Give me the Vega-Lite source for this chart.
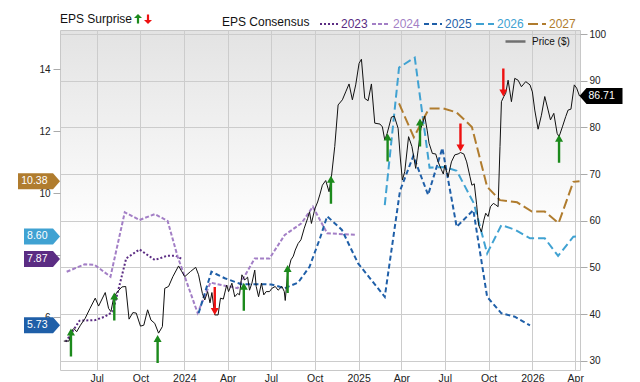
{
  "$schema": "https://vega.github.io/schema/vega-lite/v6.json",
  "width": 520,
  "height": 340,
  "autosize": {"type": "none"},
  "padding": {"left": 60, "top": 30, "right": 60, "bottom": 12},
  "background": "white",
  "config": {
    "font": "Liberation Sans",
    "view": {
      "stroke": "#c8c8c8",
      "fill": {"gradient": "linear", "x1": 0, "y1": 0, "x2": 0, "y2": 1,
        "stops": [{"offset": 0, "color": "#e3e3e3"}, {"offset": 0.6, "color": "#ffffff"}]}
    },
    "legend": {"padding": 0, "titleFontWeight": "normal", "titleFontSize": 12, "titleColor": "#111", "labelColor": "#111"}
  },
  "datasets": {
    "price": [
      {"date": "2023-04-23", "price": 34.2}, {"date": "2023-05-04", "price": 34.2}, {"date": "2023-05-08", "price": 36.2},
      {"date": "2023-05-14", "price": 36.9}, {"date": "2023-05-20", "price": 36.2}, {"date": "2023-05-28", "price": 37.6},
      {"date": "2023-06-07", "price": 39.1}, {"date": "2023-06-17", "price": 41.2}, {"date": "2023-06-28", "price": 43.4},
      {"date": "2023-07-05", "price": 41.7}, {"date": "2023-07-19", "price": 44.6}, {"date": "2023-07-26", "price": 41.2},
      {"date": "2023-07-31", "price": 40.5}, {"date": "2023-08-06", "price": 43.7}, {"date": "2023-08-14", "price": 44.8},
      {"date": "2023-08-23", "price": 45.8}, {"date": "2023-08-31", "price": 45.9}, {"date": "2023-09-07", "price": 38.9},
      {"date": "2023-09-15", "price": 40.3}, {"date": "2023-09-22", "price": 40.2}, {"date": "2023-10-01", "price": 37.4},
      {"date": "2023-10-08", "price": 37.6}, {"date": "2023-10-16", "price": 40.9}, {"date": "2023-10-23", "price": 38.7},
      {"date": "2023-10-31", "price": 38.0}, {"date": "2023-11-08", "price": 35.9}, {"date": "2023-11-16", "price": 37.3},
      {"date": "2023-11-21", "price": 45.5}, {"date": "2023-11-29", "price": 45.9}, {"date": "2023-12-08", "price": 48.0},
      {"date": "2023-12-20", "price": 50.3}, {"date": "2024-01-02", "price": 48.0}, {"date": "2024-01-14", "price": 49.1},
      {"date": "2024-01-25", "price": 50.0}, {"date": "2024-01-31", "price": 48.4}, {"date": "2024-02-08", "price": 44.4},
      {"date": "2024-02-13", "price": 43.0}, {"date": "2024-02-19", "price": 44.8}, {"date": "2024-02-24", "price": 42.4},
      {"date": "2024-02-28", "price": 44.6}, {"date": "2024-03-05", "price": 39.8}, {"date": "2024-03-12", "price": 39.8},
      {"date": "2024-03-17", "price": 43.4}, {"date": "2024-03-23", "price": 43.2}, {"date": "2024-03-30", "price": 46.2},
      {"date": "2024-04-03", "price": 44.8}, {"date": "2024-04-10", "price": 46.6}, {"date": "2024-04-16", "price": 43.7},
      {"date": "2024-04-22", "price": 44.4}, {"date": "2024-04-26", "price": 44.1}, {"date": "2024-05-01", "price": 48.4},
      {"date": "2024-05-07", "price": 47.3}, {"date": "2024-05-13", "price": 47.9}, {"date": "2024-05-17", "price": 45.1},
      {"date": "2024-05-22", "price": 46.6}, {"date": "2024-05-28", "price": 49.4}, {"date": "2024-05-31", "price": 45.9},
      {"date": "2024-06-05", "price": 43.7}, {"date": "2024-06-11", "price": 46.6}, {"date": "2024-06-16", "price": 44.1},
      {"date": "2024-06-21", "price": 44.8}, {"date": "2024-06-28", "price": 44.8}, {"date": "2024-07-03", "price": 45.5},
      {"date": "2024-07-10", "price": 45.9}, {"date": "2024-07-16", "price": 45.1}, {"date": "2024-07-24", "price": 45.9},
      {"date": "2024-07-29", "price": 44.8}, {"date": "2024-07-31", "price": 42.9}, {"date": "2024-08-05", "price": 48.7},
      {"date": "2024-08-12", "price": 51.6}, {"date": "2024-08-17", "price": 52.4}, {"date": "2024-08-21", "price": 53.7},
      {"date": "2024-08-27", "price": 55.1}, {"date": "2024-09-02", "price": 55.9}, {"date": "2024-09-09", "price": 58.4},
      {"date": "2024-09-16", "price": 60.5}, {"date": "2024-09-20", "price": 61.9}, {"date": "2024-09-24", "price": 59.4},
      {"date": "2024-10-01", "price": 62.5}, {"date": "2024-10-07", "price": 64.0}, {"date": "2024-10-12", "price": 65.7},
      {"date": "2024-10-17", "price": 67.6}, {"date": "2024-10-24", "price": 68.6}, {"date": "2024-10-31", "price": 66.2},
      {"date": "2024-11-05", "price": 69.4}, {"date": "2024-11-12", "price": 75.9}, {"date": "2024-11-19", "price": 84.8},
      {"date": "2024-11-28", "price": 85.9}, {"date": "2024-12-05", "price": 87.6}, {"date": "2024-12-12", "price": 89.3},
      {"date": "2024-12-19", "price": 85.9}, {"date": "2024-12-26", "price": 89.1}, {"date": "2025-01-02", "price": 93.7},
      {"date": "2025-01-07", "price": 94.6}, {"date": "2025-01-14", "price": 86.2}, {"date": "2025-01-21", "price": 85.7},
      {"date": "2025-01-28", "price": 89.3}, {"date": "2025-02-04", "price": 80.9}, {"date": "2025-02-15", "price": 80.7},
      {"date": "2025-02-20", "price": 80.1}, {"date": "2025-02-25", "price": 77.3}, {"date": "2025-03-02", "price": 78.7},
      {"date": "2025-03-11", "price": 82.2}, {"date": "2025-03-17", "price": 82.4}, {"date": "2025-03-25", "price": 79.8},
      {"date": "2025-03-30", "price": 73.0}, {"date": "2025-04-03", "price": 68.7}, {"date": "2025-04-08", "price": 70.5},
      {"date": "2025-04-16", "price": 78.0}, {"date": "2025-04-23", "price": 75.9}, {"date": "2025-05-01", "price": 71.2},
      {"date": "2025-05-06", "price": 75.1}, {"date": "2025-05-12", "price": 79.8}, {"date": "2025-05-20", "price": 82.4},
      {"date": "2025-05-25", "price": 79.4}, {"date": "2025-05-29", "price": 76.6}, {"date": "2025-06-05", "price": 74.4},
      {"date": "2025-06-12", "price": 74.3}, {"date": "2025-06-17", "price": 72.6}, {"date": "2025-06-24", "price": 70.9},
      {"date": "2025-06-28", "price": 70.0}, {"date": "2025-07-01", "price": 71.9}, {"date": "2025-07-08", "price": 69.4},
      {"date": "2025-07-15", "price": 72.6}, {"date": "2025-07-22", "price": 74.1}, {"date": "2025-07-29", "price": 74.3},
      {"date": "2025-08-03", "price": 74.6}, {"date": "2025-08-10", "price": 74.3}, {"date": "2025-08-16", "price": 72.6},
      {"date": "2025-08-23", "price": 69.4}, {"date": "2025-08-27", "price": 67.6}, {"date": "2025-09-01", "price": 67.9},
      {"date": "2025-09-06", "price": 63.4}, {"date": "2025-09-10", "price": 59.1}, {"date": "2025-09-16", "price": 57.6},
      {"date": "2025-09-21", "price": 60.1}, {"date": "2025-09-25", "price": 61.6}, {"date": "2025-09-30", "price": 60.9},
      {"date": "2025-10-05", "price": 63.0}, {"date": "2025-10-11", "price": 63.7}, {"date": "2025-10-16", "price": 63.4},
      {"date": "2025-10-21", "price": 63.0}, {"date": "2025-10-25", "price": 75.9}, {"date": "2025-10-28", "price": 85.5},
      {"date": "2025-11-02", "price": 86.6}, {"date": "2025-11-06", "price": 87.3}, {"date": "2025-11-11", "price": 90.1},
      {"date": "2025-11-18", "price": 85.5}, {"date": "2025-11-25", "price": 90.5}, {"date": "2025-12-02", "price": 90.1},
      {"date": "2025-12-09", "price": 88.7}, {"date": "2025-12-18", "price": 89.8}, {"date": "2025-12-27", "price": 89.1},
      {"date": "2026-01-01", "price": 87.6}, {"date": "2026-01-06", "price": 83.7}, {"date": "2026-01-13", "price": 79.6},
      {"date": "2026-01-20", "price": 82.6}, {"date": "2026-01-27", "price": 86.6}, {"date": "2026-02-03", "price": 83.7},
      {"date": "2026-02-08", "price": 81.6}, {"date": "2026-02-15", "price": 83.0}, {"date": "2026-02-22", "price": 78.7},
      {"date": "2026-02-26", "price": 78.0}, {"date": "2026-03-05", "price": 80.1}, {"date": "2026-03-12", "price": 82.3},
      {"date": "2026-03-17", "price": 83.7}, {"date": "2026-03-23", "price": 83.9}, {"date": "2026-03-30", "price": 89.1},
      {"date": "2026-04-04", "price": 88.4}, {"date": "2026-04-10", "price": 86.71}
    ],
    "eps": [
      {"series": "2023", "date": "2023-04-27", "eps": 5.20}, {"series": "2023", "date": "2023-05-26", "eps": 5.88},
      {"series": "2023", "date": "2023-06-28", "eps": 5.90}, {"series": "2023", "date": "2023-07-18", "eps": 6.01},
      {"series": "2023", "date": "2023-08-04", "eps": 6.17}, {"series": "2023", "date": "2023-09-01", "eps": 7.89},
      {"series": "2023", "date": "2023-09-29", "eps": 8.18}, {"series": "2023", "date": "2023-10-31", "eps": 7.84},
      {"series": "2023", "date": "2023-11-27", "eps": 7.98}, {"series": "2023", "date": "2023-12-14", "eps": 7.98},
      {"series": "2023", "date": "2023-12-27", "eps": 7.87},
      {"series": "2024", "date": "2023-04-29", "eps": 7.46}, {"series": "2024", "date": "2023-06-06", "eps": 7.70},
      {"series": "2024", "date": "2023-06-27", "eps": 7.68}, {"series": "2024", "date": "2023-07-30", "eps": 7.30},
      {"series": "2024", "date": "2023-08-29", "eps": 9.38}, {"series": "2024", "date": "2023-09-29", "eps": 9.13},
      {"series": "2024", "date": "2023-10-31", "eps": 9.32}, {"series": "2024", "date": "2023-11-27", "eps": 9.10},
      {"series": "2024", "date": "2023-12-18", "eps": 7.95}, {"series": "2024", "date": "2024-01-29", "eps": 6.13},
      {"series": "2024", "date": "2024-02-25", "eps": 7.11}, {"series": "2024", "date": "2024-03-19", "eps": 7.03},
      {"series": "2024", "date": "2024-04-22", "eps": 6.93}, {"series": "2024", "date": "2024-05-28", "eps": 7.89},
      {"series": "2024", "date": "2024-06-28", "eps": 7.89}, {"series": "2024", "date": "2024-07-30", "eps": 8.65},
      {"series": "2024", "date": "2024-09-03", "eps": 9.02}, {"series": "2024", "date": "2024-09-27", "eps": 9.56},
      {"series": "2024", "date": "2024-10-27", "eps": 8.70}, {"series": "2024", "date": "2024-12-28", "eps": 8.65},
      {"series": "2025", "date": "2024-01-31", "eps": 6.12}, {"series": "2025", "date": "2024-02-27", "eps": 7.46},
      {"series": "2025", "date": "2024-03-26", "eps": 7.25}, {"series": "2025", "date": "2024-04-30", "eps": 7.06},
      {"series": "2025", "date": "2024-06-04", "eps": 7.06}, {"series": "2025", "date": "2024-07-02", "eps": 7.05},
      {"series": "2025", "date": "2024-07-30", "eps": 6.93}, {"series": "2025", "date": "2024-08-27", "eps": 7.11},
      {"series": "2025", "date": "2024-09-20", "eps": 7.62}, {"series": "2025", "date": "2024-10-12", "eps": 8.54},
      {"series": "2025", "date": "2024-10-27", "eps": 9.25}, {"series": "2025", "date": "2024-11-27", "eps": 8.81},
      {"series": "2025", "date": "2024-12-31", "eps": 7.73}, {"series": "2025", "date": "2025-02-25", "eps": 6.65},
      {"series": "2025", "date": "2025-03-29", "eps": 10.07}, {"series": "2025", "date": "2025-04-26", "eps": 11.20},
      {"series": "2025", "date": "2025-05-27", "eps": 9.94}, {"series": "2025", "date": "2025-06-26", "eps": 11.45},
      {"series": "2025", "date": "2025-07-26", "eps": 8.91}, {"series": "2025", "date": "2025-08-30", "eps": 9.45},
      {"series": "2025", "date": "2025-09-28", "eps": 6.65}, {"series": "2025", "date": "2025-10-28", "eps": 6.12},
      {"series": "2025", "date": "2025-11-25", "eps": 6.01}, {"series": "2025", "date": "2025-12-27", "eps": 5.73},
      {"series": "2026", "date": "2025-02-25", "eps": 9.61}, {"series": "2026", "date": "2025-03-27", "eps": 14.05},
      {"series": "2026", "date": "2025-04-29", "eps": 14.37}, {"series": "2026", "date": "2025-05-30", "eps": 10.82},
      {"series": "2026", "date": "2025-07-01", "eps": 10.84}, {"series": "2026", "date": "2025-07-26", "eps": 10.72},
      {"series": "2026", "date": "2025-08-31", "eps": 9.67}, {"series": "2026", "date": "2025-09-28", "eps": 8.05},
      {"series": "2026", "date": "2025-10-28", "eps": 8.97}, {"series": "2026", "date": "2025-11-26", "eps": 8.81},
      {"series": "2026", "date": "2025-12-27", "eps": 8.54}, {"series": "2026", "date": "2026-01-27", "eps": 8.54},
      {"series": "2026", "date": "2026-02-24", "eps": 7.97}, {"series": "2026", "date": "2026-03-28", "eps": 8.59},
      {"series": "2026", "date": "2026-04-10", "eps": 8.60},
      {"series": "2027", "date": "2025-03-27", "eps": 12.89}, {"series": "2027", "date": "2025-04-27", "eps": 11.80},
      {"series": "2027", "date": "2025-05-29", "eps": 12.73}, {"series": "2027", "date": "2025-06-28", "eps": 12.73},
      {"series": "2027", "date": "2025-07-26", "eps": 12.60}, {"series": "2027", "date": "2025-08-27", "eps": 12.13},
      {"series": "2027", "date": "2025-09-28", "eps": 10.20}, {"series": "2027", "date": "2025-10-25", "eps": 9.77},
      {"series": "2027", "date": "2025-11-30", "eps": 9.70}, {"series": "2027", "date": "2025-12-31", "eps": 9.40},
      {"series": "2027", "date": "2026-01-27", "eps": 9.40}, {"series": "2027", "date": "2026-02-25", "eps": 9.03},
      {"series": "2027", "date": "2026-03-28", "eps": 10.36}, {"series": "2027", "date": "2026-04-10", "eps": 10.38}
    ],
    "surprise": [
      {"date": "2023-05-08", "price": 36.9, "surprise": "beat"},
      {"date": "2023-08-07", "price": 44.6, "surprise": "beat"},
      {"date": "2023-11-06", "price": 35.5, "surprise": "beat"},
      {"date": "2024-03-05", "price": 39.8, "surprise": "miss"},
      {"date": "2024-05-05", "price": 46.7, "surprise": "beat"},
      {"date": "2024-08-05", "price": 50.5, "surprise": "beat"},
      {"date": "2024-11-04", "price": 69.6, "surprise": "beat"},
      {"date": "2025-03-03", "price": 78.7, "surprise": "beat"},
      {"date": "2025-05-10", "price": 81.9, "surprise": "beat"},
      {"date": "2025-08-03", "price": 74.8, "surprise": "miss"},
      {"date": "2025-11-01", "price": 86.6, "surprise": "miss"},
      {"date": "2026-02-26", "price": 78.4, "surprise": "beat"}
    ],
    "badges": [
      {"series": "2027", "date": "2023-04-15", "eps": 10.38},
      {"series": "2026", "date": "2023-04-15", "eps": 8.60},
      {"series": "2023", "date": "2023-04-15", "eps": 7.87},
      {"series": "2025", "date": "2023-04-15", "eps": 5.73}
    ]
  },
  "encoding": {
    "x": {
      "field": "date", "type": "temporal",
      "scale": {"type": "utc", "nice": false,
        "domain": [{"year": 2023, "month": 4, "date": 15, "utc": true}, {"year": 2026, "month": 4, "date": 11, "utc": true}]},
      "axis": {
        "title": null, "grid": true, "gridColor": "#cccccc", "ticks": false, "domain": false,
        "labelPadding": 3, "labelFontSize": 10.5, "labelColor": "#222", "labelFlush": false, "labelOverlap": false,
        "values": [
          {"year": 2023, "month": 7, "date": 1, "utc": true}, {"year": 2023, "month": 10, "date": 1, "utc": true},
          {"year": 2024, "month": 1, "date": 1, "utc": true}, {"year": 2024, "month": 4, "date": 1, "utc": true},
          {"year": 2024, "month": 7, "date": 1, "utc": true}, {"year": 2024, "month": 10, "date": 1, "utc": true},
          {"year": 2025, "month": 1, "date": 1, "utc": true}, {"year": 2025, "month": 4, "date": 1, "utc": true},
          {"year": 2025, "month": 7, "date": 1, "utc": true}, {"year": 2025, "month": 10, "date": 1, "utc": true},
          {"year": 2026, "month": 1, "date": 1, "utc": true}, {"year": 2026, "month": 4, "date": 1, "utc": true}
        ],
        "labelExpr": "utcmonth(datum.value) == 0 ? utcFormat(datum.value, '%Y') : utcFormat(datum.value, '%b')"
      }
    }
  },
  "layer": [
    {
      "encoding": {
        "y": {
          "field": "eps", "type": "quantitative",
          "scale": {"domain": [4.29, 15.26], "nice": false, "zero": false},
          "axis": {"orient": "left", "title": null, "values": [6, 8, 10, 12, 14], "grid": false, "domain": false,
            "tickColor": "#aaaaaa", "tickSize": 7, "labelPadding": 3, "labelFontSize": 10, "labelColor": "#222"}
        }
      },
      "layer": [
        {
          "data": {"name": "eps"},
          "mark": {"type": "line", "strokeWidth": 2},
          "encoding": {
            "color": {
              "field": "series", "type": "nominal",
              "scale": {"domain": ["2023", "2024", "2025", "2026", "2027"],
                "range": ["#5b2c83", "#a37fc6", "#1f5fa8", "#40a2d2", "#b07c2e"]},
              "legend": {"title": "EPS Consensus", "orient": "none", "legendX": 162, "legendY": -16,
                "direction": "horizontal", "titleOrient": "left", "titlePadding": 9,
                "symbolType": "stroke", "symbolSize": 324, "symbolStrokeWidth": 2,
                "labelFontSize": 12, "labelOffset": 2, "columnPadding": 0,
                "encode": {"labels": {"update": {"fill": {"signal": "scale('color', datum.value)"}}}}}
            },
            "strokeDash": {
              "field": "series", "type": "nominal",
              "scale": {"domain": ["2023", "2024", "2025", "2026", "2027"],
                "range": [[2, 2], [4, 2], [5, 3], [8, 4], [10, 4]]},
              "legend": {"title": "EPS Consensus", "orient": "none", "legendX": 162, "legendY": -16,
                "direction": "horizontal", "titleOrient": "left", "titlePadding": 9,
                "symbolType": "stroke", "symbolSize": 324, "symbolStrokeWidth": 2,
                "labelFontSize": 12, "labelOffset": 2, "columnPadding": 0}
            }
          }
        },
        {
          "data": {"name": "badges"},
          "mark": {"type": "point", "filled": true, "opacity": 1, "size": 16, "strokeWidth": 0, "clip": false},
          "encoding": {
            "color": {"field": "series", "type": "nominal", "legend": null},
            "shape": {"condition": {"test": "datum.eps >= 10", "value": "M0,0 L-3.5,-4 L-21,-4 L-21,4 L-3.5,4 Z"},
              "value": "M0,0 L-3.5,-4 L-18,-4 L-18,4 L-3.5,4 Z"}
          }
        },
        {
          "data": {"name": "badges"},
          "mark": {"type": "text", "color": "white", "align": "right", "baseline": "middle", "dx": -12.5, "fontSize": 10.5, "clip": false},
          "encoding": {
            "text": {"field": "eps", "type": "quantitative", "format": ".2f"}
          }
        }
      ]
    },
    {
      "encoding": {
        "y": {
          "field": "price", "type": "quantitative",
          "scale": {"domain": [28.0, 100.86], "nice": false, "zero": false},
          "axis": {"orient": "right", "title": null, "values": [30, 40, 50, 60, 70, 80, 90, 100], "grid": true,
            "gridColor": "#cccccc", "domain": false, "tickColor": "#aaaaaa", "tickSize": 7, "labelPadding": 2,
            "labelFontSize": 10, "labelColor": "#222"}
        }
      },
      "layer": [
        {
          "data": {"name": "price"},
          "transform": [{"filter": "false"}],
          "mark": {"type": "line", "strokeWidth": 2.5},
          "encoding": {
            "stroke": {
              "datum": "Price ($)", "type": "nominal",
              "scale": {"range": ["#707070"]},
              "legend": {"title": null, "orient": "none", "legendX": 444, "legendY": 0,
                "symbolType": "stroke", "symbolSize": 400, "symbolStrokeWidth": 2.5,
                "labelFontSize": 10, "labelOffset": 5}
            }
          }
        },
        {
          "data": {"name": "price"},
          "mark": {"type": "line", "strokeWidth": 1, "color": "#111111"}
        },
        {
          "data": {"name": "surprise"},
          "mark": {"type": "point", "filled": true, "opacity": 1, "size": 16, "strokeWidth": 0},
          "encoding": {
            "shape": {
              "condition": {"test": "datum.surprise === 'beat'", "value": "M0,0 L2,3.5 L0.6,3.5 L0.6,14 L-0.6,14 L-0.6,3.5 L-2,3.5 Z"},
              "value": "M0,0 L2,-3.5 L0.6,-3.5 L0.6,-14 L-0.6,-14 L-0.6,-3.5 L-2,-3.5 Z"
            },
            "fill": {
              "field": "surprise", "type": "nominal",
              "scale": {"domain": ["beat", "miss"], "range": ["#1c8a1c", "#ee1111"]},
              "legend": {"title": "EPS Surprise", "orient": "none", "legendX": 0, "legendY": -16,
                "direction": "horizontal", "titleOrient": "left", "titlePadding": 0,
                "symbolSize": 4, "labelExpr": "''", "labelOffset": 0, "columnPadding": 0,
                "symbolType": {"expr": "datum.value === 'beat' ? 'M0,-5 L4,-1 L1.1,-1 L1.1,4.5 L-1.1,4.5 L-1.1,-1 L-4,-1 Z' : 'M0,5 L4,1 L1.1,1 L1.1,-4.5 L-1.1,-4.5 L-1.1,1 L-4,1 Z'"}}
            }
          }
        },
        {
          "data": {"name": "price"},
          "transform": [
            {"window": [{"op": "row_number", "as": "rank"}], "sort": [{"field": "date", "order": "descending"}]},
            {"filter": "datum.rank == 1"}
          ],
          "mark": {"type": "point", "filled": true, "opacity": 1, "size": 16, "strokeWidth": 0, "color": "#000000", "clip": false},
          "encoding": {
            "shape": {"value": "M0,0 L3.5,-4 L21.5,-4 L21.5,4 L3.5,4 Z"}
          }
        },
        {
          "data": {"name": "price"},
          "transform": [
            {"window": [{"op": "row_number", "as": "rank"}], "sort": [{"field": "date", "order": "descending"}]},
            {"filter": "datum.rank == 1"}
          ],
          "mark": {"type": "text", "color": "white", "align": "left", "baseline": "middle", "dx": 9, "fontSize": 10.5, "clip": false},
          "encoding": {
            "text": {"field": "price", "type": "quantitative", "format": ".2f"}
          }
        }
      ]
    }
  ],
  "resolve": {"scale": {"y": "independent"}, "axis": {"y": "independent"}}
}
